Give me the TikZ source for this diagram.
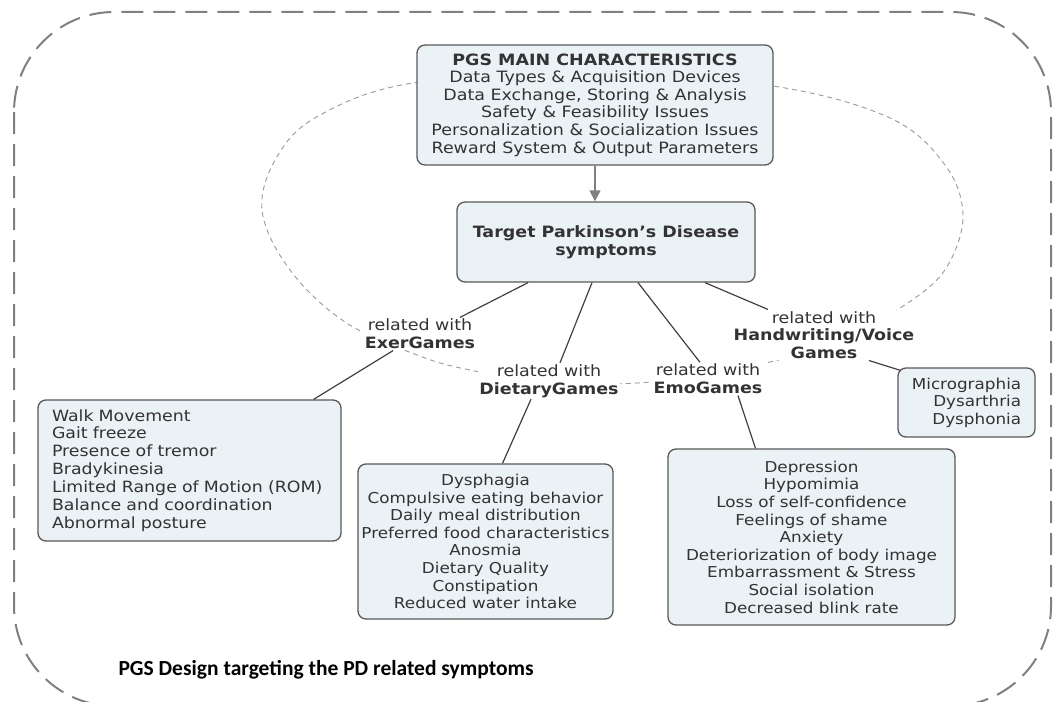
\documentclass[tikz,border=0pt]{standalone}
\usepackage{fontspec}
\setmainfont{DejaVu Sans}[FakeStretch=1.12]
\newfontfamily\capfont{Carlito}
\usetikzlibrary{arrows.meta}
\definecolor{boxfill}{HTML}{EBF2F5}
\definecolor{boxline}{HTML}{595959}
\definecolor{txt}{HTML}{333333}

\begin{document}
\begin{tikzpicture}[x=1pt,y=-1pt,
  every node/.style={text=txt,font=\fontsize{15}{17.6}\selectfont},
  symbox/.style={draw=boxline,fill=boxfill,line width=1.3pt,rounded corners=8pt,inner sep=0pt},
  relation/.style={fill=white,inner sep=1.5pt,align=center,font=\fontsize{15.6}{17.8}\selectfont},
  link/.style={draw=black!75,line width=1.2pt}]
\useasboundingbox (0,0) rectangle (1054,701);
% frame and the dashed loop behind the labels
\draw[gray,line width=2pt,dash pattern=on 22pt off 10pt,rounded corners=100pt] (14,12) rectangle (1051,706);
\draw[gray!80,line width=0.9pt,dash pattern=on 5pt off 4pt] plot[smooth cycle,tension=0.6] coordinates {
  (413,83) (595,72) (773,86) (890,118) (945,165) (963,215) (948,265) (915,298)
  (850,335) (770,362) (650,382) (550,382) (470,370) (417,355) (345,322)
  (290,270) (262,210) (278,155) (320,115)};

\node[symbox,minimum width=356pt,minimum height=120pt,align=center,font=\fontsize{15.6}{17.6}\selectfont] (pgsmain) at (595,105)
  {\textbf{PGS MAIN CHARACTERISTICS}\\Data Types \& Acquisition Devices\\Data Exchange, Storing \& Analysis\\Safety \& Feasibility Issues\\Personalization \& Socialization Issues\\Reward System \& Output Parameters};
\node[symbox,minimum width=298pt,minimum height=80pt,align=center,font=\fontsize{15.6}{17.6}\selectfont\bfseries] (target) at (606,242)
  {Target Parkinson's Disease\\symptoms};

\node[relation] (exer) at (420,334) {related with\\\textbf{ExerGames}};
\node[relation] (dietary) at (549,381) {related with\\\textbf{DietaryGames}};
\node[relation] (emo) at (708,379) {related with\\\textbf{EmoGames}};
\node[relation] (hwvoice) at (824,335) {related with\\\textbf{Handwriting/Voice}\\\textbf{Games}};

\node[symbox,minimum width=303pt,minimum height=141pt,text width=275pt,align=left,font=\fontsize{15.5}{17.9}\selectfont] (exerbox) at (189.5,470.5)
  {Walk Movement\\Gait freeze\\Presence of tremor\\Bradykinesia\\Limited Range of Motion (ROM)\\Balance and coordination\\Abnormal posture};
\node[symbox,minimum width=255pt,minimum height=155pt,align=center] (dietbox) at (485.5,541.5)
  {Dysphagia\\Compulsive eating behavior\\Daily meal distribution\\Preferred food characteristics\\Anosmia\\Dietary Quality\\Constipation\\Reduced water intake};
\node[symbox,minimum width=287pt,minimum height=176pt,align=center] (emobox) at (811.5,537)
  {Depression\\Hypomimia\\Loss of self-confidence\\Feelings of shame\\Anxiety\\Deteriorization of body image\\Embarrassment \& Stress\\Social isolation\\Decreased blink rate};
\node[symbox,minimum width=137pt,minimum height=69pt,align=right] (hwbox) at (966.5,402.5)
  {Micrographia\\Dysarthria\\Dysphonia};

\node[anchor=west,text=black,font=\capfont\bfseries\fontsize{21.5}{24}\selectfont] (caption) at (115,670)
  {PGS Design targeting the PD related symptoms};

% connectors
\draw[draw=gray,fill=gray,line width=1.3pt,-{Triangle[length=11pt,width=11pt]}] (pgsmain.south) -- (pgsmain.south |- target.north);
\draw[link] ([xshift=-78pt]target.south) -- ([xshift=40pt]exer.north);
\draw[link] ([xshift=-14pt]target.south) -- ([xshift=11pt]dietary.north);
\draw[link] ([xshift=32pt]target.south) -- ([xshift=-8pt]emo.north);
\draw[link] ([xshift=99pt]target.south) -- ([xshift=-56pt]hwvoice.north);
\draw[link] ([xshift=-27pt]exer.south) -- ([xshift=-28pt]exerbox.north east);
\draw[link] ([xshift=-18pt]dietary.south) -- ([xshift=17pt]dietbox.north);
\draw[link] ([xshift=30pt]emo.south) -- ([xshift=-56pt]emobox.north);
\draw[link] ([xshift=45pt]hwvoice.south) -- ([xshift=3pt,yshift=-3pt]hwbox.north west);
\end{tikzpicture}
\end{document}
